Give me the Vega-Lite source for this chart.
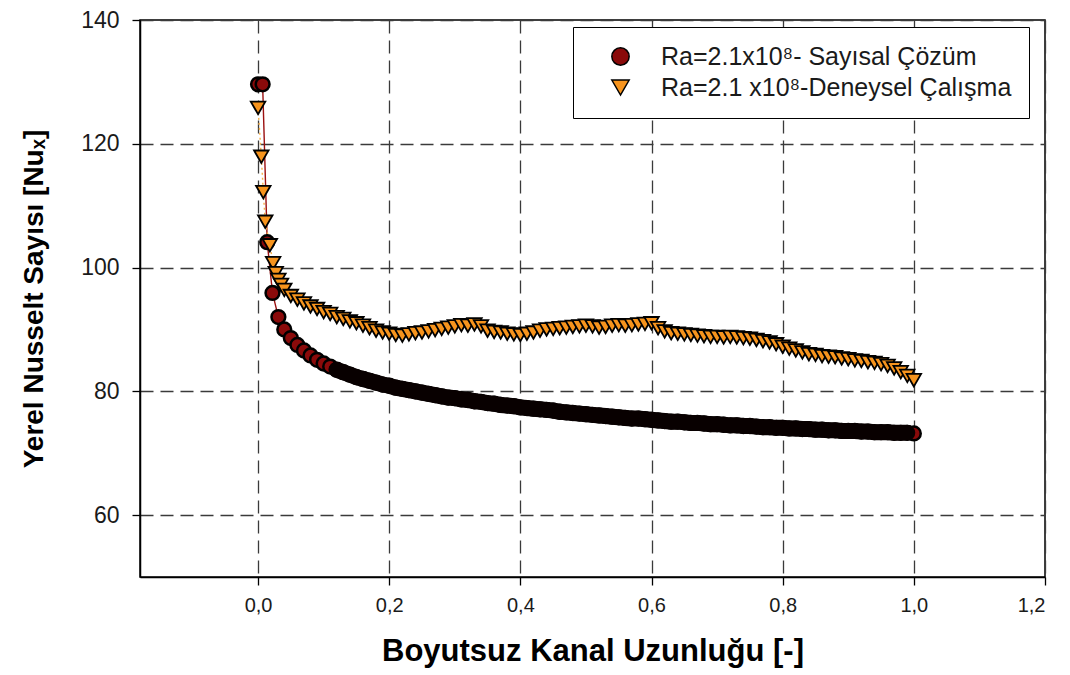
{
  "$schema": "https://vega.github.io/schema/vega-lite/v6.json",
  "width": 905,
  "height": 557,
  "autosize": "none",
  "padding": {"left": 140, "top": 20, "right": 25, "bottom": 98},
  "background": "white",
  "config": {
    "font": "Liberation Sans",
    "view": {"stroke": "black", "strokeWidth": 1.5},
    "axis": {
      "grid": true, "gridColor": "#3a3a3a", "gridDash": [13, 7], "gridWidth": 1.3,
      "domainColor": "black", "domainWidth": 1.5, "tickColor": "black", "tickSize": 8, "tickWidth": 1.3,
      "labelColor": "#1a1a1a", "titleColor": "black", "titleFontWeight": "bold"
    }
  },
  "datasets": {
    "seri": [
    {"x": 0.0, "y": 129.6, "s": "n"},
    {"x": 0.007, "y": 129.6, "s": "n"},
    {"x": 0.014, "y": 104.1, "s": "n"},
    {"x": 0.022, "y": 95.9, "s": "n"},
    {"x": 0.031, "y": 92.0, "s": "n"},
    {"x": 0.04, "y": 90.0, "s": "n"},
    {"x": 0.05, "y": 88.6, "s": "n"},
    {"x": 0.06, "y": 87.5, "s": "n"},
    {"x": 0.07, "y": 86.6, "s": "n"},
    {"x": 0.08, "y": 85.8, "s": "n"},
    {"x": 0.09, "y": 85.1, "s": "n"},
    {"x": 0.10, "y": 84.5, "s": "n"},
    {"x": 0.11, "y": 84.0, "s": "n"},
    {"x": 0.12, "y": 83.5, "s": "n"},
    {"x": 0.13, "y": 83.1, "s": "n"},
    {"x": 0.14, "y": 82.7, "s": "n"},
    {"x": 0.15, "y": 82.3, "s": "n"},
    {"x": 0.16, "y": 82.0, "s": "n"},
    {"x": 0.17, "y": 81.7, "s": "n"},
    {"x": 0.18, "y": 81.4, "s": "n"},
    {"x": 0.19, "y": 81.1, "s": "n"},
    {"x": 0.20, "y": 80.9, "s": "n"},
    {"x": 0.21, "y": 80.6, "s": "n"},
    {"x": 0.22, "y": 80.4, "s": "n"},
    {"x": 0.23, "y": 80.2, "s": "n"},
    {"x": 0.24, "y": 80.0, "s": "n"},
    {"x": 0.25, "y": 79.8, "s": "n"},
    {"x": 0.26, "y": 79.6, "s": "n"},
    {"x": 0.27, "y": 79.4, "s": "n"},
    {"x": 0.28, "y": 79.2, "s": "n"},
    {"x": 0.29, "y": 79.0, "s": "n"},
    {"x": 0.30, "y": 78.9, "s": "n"},
    {"x": 0.31, "y": 78.7, "s": "n"},
    {"x": 0.32, "y": 78.6, "s": "n"},
    {"x": 0.33, "y": 78.4, "s": "n"},
    {"x": 0.34, "y": 78.3, "s": "n"},
    {"x": 0.35, "y": 78.1, "s": "n"},
    {"x": 0.36, "y": 78.0, "s": "n"},
    {"x": 0.37, "y": 77.8, "s": "n"},
    {"x": 0.38, "y": 77.7, "s": "n"},
    {"x": 0.39, "y": 77.6, "s": "n"},
    {"x": 0.40, "y": 77.4, "s": "n"},
    {"x": 0.41, "y": 77.3, "s": "n"},
    {"x": 0.42, "y": 77.2, "s": "n"},
    {"x": 0.43, "y": 77.1, "s": "n"},
    {"x": 0.44, "y": 77.0, "s": "n"},
    {"x": 0.45, "y": 76.9, "s": "n"},
    {"x": 0.46, "y": 76.7, "s": "n"},
    {"x": 0.47, "y": 76.6, "s": "n"},
    {"x": 0.48, "y": 76.5, "s": "n"},
    {"x": 0.49, "y": 76.4, "s": "n"},
    {"x": 0.50, "y": 76.3, "s": "n"},
    {"x": 0.51, "y": 76.2, "s": "n"},
    {"x": 0.52, "y": 76.1, "s": "n"},
    {"x": 0.53, "y": 76.0, "s": "n"},
    {"x": 0.54, "y": 75.9, "s": "n"},
    {"x": 0.55, "y": 75.8, "s": "n"},
    {"x": 0.56, "y": 75.7, "s": "n"},
    {"x": 0.57, "y": 75.6, "s": "n"},
    {"x": 0.58, "y": 75.6, "s": "n"},
    {"x": 0.59, "y": 75.5, "s": "n"},
    {"x": 0.60, "y": 75.4, "s": "n"},
    {"x": 0.61, "y": 75.3, "s": "n"},
    {"x": 0.62, "y": 75.2, "s": "n"},
    {"x": 0.63, "y": 75.1, "s": "n"},
    {"x": 0.64, "y": 75.1, "s": "n"},
    {"x": 0.65, "y": 75.0, "s": "n"},
    {"x": 0.66, "y": 74.9, "s": "n"},
    {"x": 0.67, "y": 74.9, "s": "n"},
    {"x": 0.68, "y": 74.8, "s": "n"},
    {"x": 0.69, "y": 74.7, "s": "n"},
    {"x": 0.70, "y": 74.7, "s": "n"},
    {"x": 0.71, "y": 74.6, "s": "n"},
    {"x": 0.72, "y": 74.5, "s": "n"},
    {"x": 0.73, "y": 74.5, "s": "n"},
    {"x": 0.74, "y": 74.4, "s": "n"},
    {"x": 0.75, "y": 74.4, "s": "n"},
    {"x": 0.76, "y": 74.3, "s": "n"},
    {"x": 0.77, "y": 74.2, "s": "n"},
    {"x": 0.78, "y": 74.2, "s": "n"},
    {"x": 0.79, "y": 74.1, "s": "n"},
    {"x": 0.80, "y": 74.1, "s": "n"},
    {"x": 0.81, "y": 74.0, "s": "n"},
    {"x": 0.82, "y": 74.0, "s": "n"},
    {"x": 0.83, "y": 73.9, "s": "n"},
    {"x": 0.84, "y": 73.9, "s": "n"},
    {"x": 0.85, "y": 73.8, "s": "n"},
    {"x": 0.86, "y": 73.8, "s": "n"},
    {"x": 0.87, "y": 73.7, "s": "n"},
    {"x": 0.88, "y": 73.7, "s": "n"},
    {"x": 0.89, "y": 73.6, "s": "n"},
    {"x": 0.90, "y": 73.6, "s": "n"},
    {"x": 0.91, "y": 73.6, "s": "n"},
    {"x": 0.92, "y": 73.5, "s": "n"},
    {"x": 0.93, "y": 73.5, "s": "n"},
    {"x": 0.94, "y": 73.4, "s": "n"},
    {"x": 0.95, "y": 73.4, "s": "n"},
    {"x": 0.96, "y": 73.4, "s": "n"},
    {"x": 0.97, "y": 73.3, "s": "n"},
    {"x": 0.98, "y": 73.3, "s": "n"},
    {"x": 0.99, "y": 73.3, "s": "n"},
    {"x": 1.00, "y": 73.2, "s": "n"},
    {"x": 0.0, "y": 125.8, "s": "e"},
    {"x": 0.005, "y": 117.9, "s": "e"},
    {"x": 0.008, "y": 112.2, "s": "e"},
    {"x": 0.011, "y": 107.4, "s": "e"},
    {"x": 0.018, "y": 103.6, "s": "e"},
    {"x": 0.023, "y": 100.7, "s": "e"},
    {"x": 0.027, "y": 99.1, "s": "e"},
    {"x": 0.031, "y": 98.0, "s": "e"},
    {"x": 0.035, "y": 97.2, "s": "e"},
    {"x": 0.04, "y": 96.4, "s": "e"},
    {"x": 0.05, "y": 95.4, "s": "e"},
    {"x": 0.06, "y": 94.8, "s": "e"},
    {"x": 0.07, "y": 94.2, "s": "e"},
    {"x": 0.08, "y": 93.7, "s": "e"},
    {"x": 0.09, "y": 93.3, "s": "e"},
    {"x": 0.10, "y": 92.8, "s": "e"},
    {"x": 0.11, "y": 92.5, "s": "e"},
    {"x": 0.12, "y": 92.0, "s": "e"},
    {"x": 0.13, "y": 91.7, "s": "e"},
    {"x": 0.14, "y": 91.3, "s": "e"},
    {"x": 0.15, "y": 91.0, "s": "e"},
    {"x": 0.16, "y": 90.6, "s": "e"},
    {"x": 0.17, "y": 90.2, "s": "e"},
    {"x": 0.18, "y": 89.8, "s": "e"},
    {"x": 0.19, "y": 89.5, "s": "e"},
    {"x": 0.20, "y": 89.3, "s": "e"},
    {"x": 0.21, "y": 89.1, "s": "e"},
    {"x": 0.22, "y": 89.0, "s": "e"},
    {"x": 0.23, "y": 89.2, "s": "e"},
    {"x": 0.24, "y": 89.4, "s": "e"},
    {"x": 0.25, "y": 89.5, "s": "e"},
    {"x": 0.26, "y": 89.7, "s": "e"},
    {"x": 0.27, "y": 89.9, "s": "e"},
    {"x": 0.28, "y": 90.1, "s": "e"},
    {"x": 0.29, "y": 90.3, "s": "e"},
    {"x": 0.30, "y": 90.5, "s": "e"},
    {"x": 0.31, "y": 90.7, "s": "e"},
    {"x": 0.32, "y": 90.6, "s": "e"},
    {"x": 0.33, "y": 90.8, "s": "e"},
    {"x": 0.34, "y": 90.5, "s": "e"},
    {"x": 0.35, "y": 89.8, "s": "e"},
    {"x": 0.36, "y": 89.6, "s": "e"},
    {"x": 0.37, "y": 89.5, "s": "e"},
    {"x": 0.38, "y": 89.3, "s": "e"},
    {"x": 0.39, "y": 89.2, "s": "e"},
    {"x": 0.40, "y": 89.1, "s": "e"},
    {"x": 0.41, "y": 89.3, "s": "e"},
    {"x": 0.42, "y": 89.5, "s": "e"},
    {"x": 0.43, "y": 89.8, "s": "e"},
    {"x": 0.44, "y": 90.0, "s": "e"},
    {"x": 0.45, "y": 90.1, "s": "e"},
    {"x": 0.46, "y": 90.2, "s": "e"},
    {"x": 0.47, "y": 90.3, "s": "e"},
    {"x": 0.48, "y": 90.4, "s": "e"},
    {"x": 0.49, "y": 90.5, "s": "e"},
    {"x": 0.50, "y": 90.6, "s": "e"},
    {"x": 0.51, "y": 90.5, "s": "e"},
    {"x": 0.52, "y": 90.3, "s": "e"},
    {"x": 0.53, "y": 90.4, "s": "e"},
    {"x": 0.54, "y": 90.6, "s": "e"},
    {"x": 0.55, "y": 90.7, "s": "e"},
    {"x": 0.56, "y": 90.6, "s": "e"},
    {"x": 0.57, "y": 90.7, "s": "e"},
    {"x": 0.58, "y": 90.8, "s": "e"},
    {"x": 0.59, "y": 90.9, "s": "e"},
    {"x": 0.60, "y": 91.0, "s": "e"},
    {"x": 0.61, "y": 90.2, "s": "e"},
    {"x": 0.62, "y": 89.7, "s": "e"},
    {"x": 0.63, "y": 89.4, "s": "e"},
    {"x": 0.64, "y": 89.3, "s": "e"},
    {"x": 0.65, "y": 89.2, "s": "e"},
    {"x": 0.66, "y": 89.1, "s": "e"},
    {"x": 0.67, "y": 89.0, "s": "e"},
    {"x": 0.68, "y": 88.9, "s": "e"},
    {"x": 0.69, "y": 88.8, "s": "e"},
    {"x": 0.70, "y": 88.8, "s": "e"},
    {"x": 0.71, "y": 88.7, "s": "e"},
    {"x": 0.72, "y": 88.8, "s": "e"},
    {"x": 0.73, "y": 88.7, "s": "e"},
    {"x": 0.74, "y": 88.6, "s": "e"},
    {"x": 0.75, "y": 88.5, "s": "e"},
    {"x": 0.76, "y": 88.3, "s": "e"},
    {"x": 0.77, "y": 88.1, "s": "e"},
    {"x": 0.78, "y": 87.9, "s": "e"},
    {"x": 0.79, "y": 87.6, "s": "e"},
    {"x": 0.80, "y": 87.2, "s": "e"},
    {"x": 0.81, "y": 86.9, "s": "e"},
    {"x": 0.82, "y": 86.6, "s": "e"},
    {"x": 0.83, "y": 86.3, "s": "e"},
    {"x": 0.84, "y": 86.0, "s": "e"},
    {"x": 0.85, "y": 85.9, "s": "e"},
    {"x": 0.86, "y": 85.7, "s": "e"},
    {"x": 0.87, "y": 85.6, "s": "e"},
    {"x": 0.88, "y": 85.5, "s": "e"},
    {"x": 0.89, "y": 85.3, "s": "e"},
    {"x": 0.90, "y": 85.2, "s": "e"},
    {"x": 0.91, "y": 85.0, "s": "e"},
    {"x": 0.92, "y": 84.9, "s": "e"},
    {"x": 0.93, "y": 84.7, "s": "e"},
    {"x": 0.94, "y": 84.6, "s": "e"},
    {"x": 0.95, "y": 84.4, "s": "e"},
    {"x": 0.96, "y": 84.1, "s": "e"},
    {"x": 0.97, "y": 83.7, "s": "e"},
    {"x": 0.98, "y": 83.1, "s": "e"},
    {"x": 0.99, "y": 82.5, "s": "e"},
    {"x": 1.00, "y": 81.8, "s": "e"}
    ]
  },
  "data": {"name": "seri"},
  "encoding": {
    "x": {
      "field": "x", "type": "quantitative",
      "scale": {"domain": [-0.18, 1.2], "nice": false, "zero": false},
      "axis": {
        "title": "Boyutsuz Kanal Uzunluğu [-]",
        "values": [0, 0.2, 0.4, 0.6, 0.8, 1.0, 1.2],
        "labelExpr": "replace(format(datum.value, '.1f'), '.', ',')",
        "labelFontSize": 20, "labelPadding": 10,
        "titleFontSize": 31, "titlePadding": 21
      }
    },
    "y": {
      "field": "y", "type": "quantitative",
      "scale": {"domain": [50, 140], "nice": false, "zero": false},
      "axis": {
        "title": "Yerel Nusselt Sayısı [Nuₓ]",
        "values": [60, 80, 100, 120, 140],
        "labelFontSize": 23, "labelPadding": 13,
        "titleFontSize": 28, "titlePadding": 32
      }
    }
  },
  "layer": [
    {
      "transform": [{"filter": "datum.s == 'n'"}],
      "mark": {"type": "line", "strokeWidth": 1.4, "color": "#9b1010"},
      "encoding": {}
    },
    {
      "transform": [{"filter": "datum.s == 'e'"}],
      "mark": {"type": "line", "strokeWidth": 1.4, "color": "#f6b04a", "strokeDash": [2, 3]},
      "encoding": {}
    },
    {
      "transform": [{"filter": "datum.s == 'n'"}],
      "mark": {"type": "point", "filled": true, "opacity": 1, "stroke": "black", "strokeWidth": 2.5, "size": 190},
      "encoding": {
        "color": {
          "field": "s", "type": "nominal",
          "scale": {"domain": ["n", "e"], "range": ["#8a0a0a", "#f7941d"]},
          "legend": {
            "title": null, "orient": "none", "legendX": 433, "legendY": 7,
            "fillColor": "white", "strokeColor": "black", "padding": 17,
            "labelFontSize": 25, "labelColor": "#1a1a1a", "labelLimit": 600,
            "symbolSize": 300, "symbolStrokeColor": "black", "symbolStrokeWidth": 1.5,
            "symbolOffset": 18, "labelOffset": 28, "rowPadding": 5,
            "labelExpr": "datum.label == 'n' ? 'Ra=2.1x10⁸- Sayısal Çözüm' : 'Ra=2.1 x10⁸-Deneysel Çalışma'"
          }
        },
        "shape": {
          "field": "s", "type": "nominal",
          "scale": {"domain": ["n", "e"], "range": ["circle", "triangle-down"]}
        }
      }
    },
    {
      "transform": [{"filter": "datum.s == 'n' && datum.x >= 0.12 && datum.x <= 0.99"}],
      "mark": {"type": "line", "strokeWidth": 16, "color": "#080000", "strokeCap": "round"},
      "encoding": {}
    },
    {
      "transform": [{"filter": "datum.s == 'e'"}],
      "mark": {"type": "point", "filled": true, "opacity": 1, "stroke": "black", "strokeWidth": 1.8, "size": 210},
      "encoding": {
        "color": {"field": "s", "type": "nominal"},
        "shape": {"field": "s", "type": "nominal"}
      }
    }
  ]
}
